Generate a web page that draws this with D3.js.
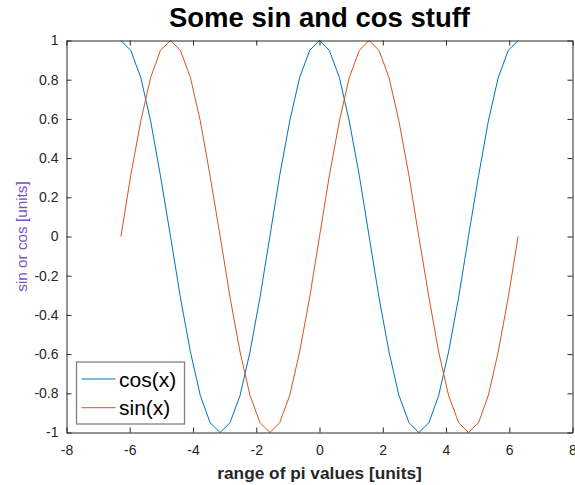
<!DOCTYPE html>
<html>
<head>
<meta charset="utf-8">
<title>Some sin and cos stuff</title>
<style>
  body { margin: 0; background: #fff; }
  text { font-family: "Liberation Sans", Arial, sans-serif; }
  .axis path { stroke: #262626; }
  .axis line { stroke: #262626; }
  .axis text { fill: #262626; font-size: 14px; }
</style>
</head>
<body>
<script src="https://d3js.org/d3.v7.min.js"></script>
<script>
// x values: -2pi .. 2pi in steps of pi/10
var xValues = [-6.28, -5.97, -5.65, -5.34, -5.03, -4.71, -4.40, -4.08, -3.77, -3.46,
               -3.14, -2.83, -2.51, -2.20, -1.88, -1.57, -1.26, -0.94, -0.63, -0.31,
                0.00,  0.31,  0.63,  0.94,  1.26,  1.57,  1.88,  2.20,  2.51,  2.83,
                3.14,  3.46,  3.77,  4.08,  4.40,  4.71,  5.03,  5.34,  5.65,  5.97, 6.28];

var cosValues = [1, 0.95, 0.81, 0.59, 0.31, 0, -0.31, -0.59, -0.81, -0.95,
                 -1, -0.95, -0.81, -0.59, -0.31, 0, 0.31, 0.59, 0.81, 0.95,
                 1, 0.95, 0.81, 0.59, 0.31, 0, -0.31, -0.59, -0.81, -0.95,
                 -1, -0.95, -0.81, -0.59, -0.31, 0, 0.31, 0.59, 0.81, 0.95, 1];

var sinValues = [0, 0.31, 0.59, 0.81, 0.95, 1, 0.95, 0.81, 0.59, 0.31,
                 0, -0.31, -0.59, -0.81, -0.95, -1, -0.95, -0.81, -0.59, -0.31,
                 0, 0.31, 0.59, 0.81, 0.95, 1, 0.95, 0.81, 0.59, 0.31,
                 0, -0.31, -0.59, -0.81, -0.95, -1, -0.95, -0.81, -0.59, -0.31, 0];

var seriesNames = ["cos(x)", "sin(x)"];
var xTicks = [-8, -6, -4, -2, 0, 2, 4, 6, 8];
var yTicks = [-1, -0.8, -0.6, -0.4, -0.2, 0, 0.2, 0.4, 0.6, 0.8, 1];

var W = 575, H = 485;
var mLeft = 66.5, mRight = 572.5, mTop = 40.5, mBottom = 432.5;

var colors = ["#0072BD", "#D95319"];

var svg = d3.select("body").append("svg")
    .attr("width", W)
    .attr("height", H);

var xScale = d3.scaleLinear().domain([-8, 8]).range([mLeft, mRight]);
var yScale = d3.scaleLinear().domain([-1, 1]).range([mBottom, mTop]);

// lines
var line = d3.line()
    .x(function(d) { return xScale(d[0]); })
    .y(function(d) { return yScale(d[1]); });

[cosValues, sinValues].forEach(function(vals, i) {
    var pts = xValues.map(function(x, j) { return [x, vals[j]]; });
    svg.append("path")
        .datum(pts)
        .attr("d", line)
        .attr("fill", "none")
        .attr("stroke", colors[i])
        .attr("stroke-width", 1);
});

// axes (box on, ticks inside)
var fmt = function(d) { return String(+d.toFixed(1)); };

svg.append("g").attr("class", "axis")
    .attr("transform", "translate(0," + mBottom + ")")
    .call(d3.axisBottom(xScale).tickValues(xTicks).tickSizeInner(-5).tickSizeOuter(0).tickPadding(13).tickFormat(fmt));
svg.append("g").attr("class", "axis")
    .attr("transform", "translate(0," + mTop + ")")
    .call(d3.axisTop(xScale).tickValues(xTicks).tickSizeInner(-5).tickSizeOuter(0).tickFormat(""));
svg.append("g").attr("class", "axis")
    .attr("transform", "translate(" + mLeft + ",0)")
    .call(d3.axisLeft(yScale).tickValues(yTicks).tickSizeInner(-5).tickSizeOuter(0).tickPadding(8).tickFormat(fmt));
svg.append("g").attr("class", "axis")
    .attr("transform", "translate(" + mRight + ",0)")
    .call(d3.axisRight(yScale).tickValues(yTicks).tickSizeInner(-5).tickSizeOuter(0).tickFormat(""));

// title
svg.append("text")
    .attr("x", (mLeft + mRight) / 2)
    .attr("y", 27)
    .attr("text-anchor", "middle")
    .attr("font-size", "27.5px")
    .attr("font-weight", "bold")
    .attr("fill", "#000")
    .text("Some sin and cos stuff");

// x label
svg.append("text")
    .attr("x", (mLeft + mRight) / 2)
    .attr("y", 479)
    .attr("text-anchor", "middle")
    .attr("font-size", "17.3px")
    .attr("font-weight", "bold")
    .attr("fill", "#262626")
    .text("range of pi values [units]");

// y label
svg.append("text")
    .attr("transform", "translate(27," + ((mTop + mBottom) / 2) + ") rotate(-90)")
    .attr("text-anchor", "middle")
    .attr("font-size", "15.3px")
    .attr("fill", "#7B50C4")
    .text("sin or cos [units]");

// legend
var lg = svg.append("g").attr("transform", "translate(76.5,362)");
lg.append("rect")
    .attr("width", 108)
    .attr("height", 62)
    .attr("fill", "#fff")
    .attr("stroke", "#808080")
    .attr("stroke-width", 1.3);
seriesNames.forEach(function(name, i) {
    var y = 17 + i * 28.7;
    lg.append("line")
        .attr("x1", 5).attr("x2", 39)
        .attr("y1", y).attr("y2", y)
        .attr("stroke", colors[i]);
    lg.append("text")
        .attr("x", 42.5)
        .attr("y", y + 7.5)
        .attr("font-size", "21px")
        .attr("fill", "#000")
        .text(name);
});
</script>
</body>
</html>
